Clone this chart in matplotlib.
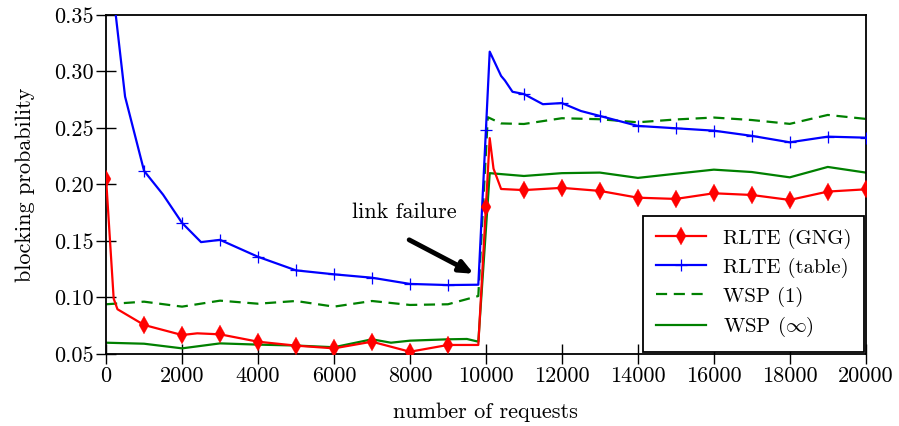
import numpy as np
import matplotlib
matplotlib.use('Agg')
import matplotlib.pyplot as plt
from matplotlib.ticker import FormatStrFormatter

plt.rcParams['font.family'] = 'serif'
plt.rcParams['font.serif'] = ['cmr10', 'DejaVu Serif']
plt.rcParams['mathtext.fontset'] = 'cm'
plt.rcParams['axes.formatter.use_mathtext'] = True

# RLTE (GNG)
x_gng = [0, 200, 300, 1000, 2000, 2400, 3000, 4000, 5000, 6000, 7000, 8000, 9000,
         9800, 10000, 10100, 10200, 10400, 11000, 12000, 13000, 14000, 15000,
         16000, 17000, 18000, 19000, 20000]
y_gng = [0.205, 0.099, 0.0896, 0.0757, 0.0668, 0.0683, 0.0674, 0.0609, 0.0574, 0.055,
         0.0609, 0.052, 0.058, 0.058, 0.180, 0.241, 0.214, 0.196, 0.195, 0.197, 0.1943,
         0.1883, 0.1872, 0.1922, 0.1907, 0.1863, 0.1937, 0.1957]

# RLTE (table)
x_tab = [0, 500, 1000, 1500, 2000, 2500, 3000, 4000, 5000, 6000, 7000, 8000, 9000,
         9800, 10000, 10100, 10400, 10500, 10700, 11000, 11500, 12000, 12500, 13000,
         14000, 15000, 16000, 17000, 18000, 19000, 20000]
y_tab = [0.425, 0.2777, 0.212, 0.191, 0.166, 0.149, 0.151, 0.136, 0.124, 0.1205,
         0.1175, 0.112, 0.111, 0.1113, 0.248, 0.3175, 0.296, 0.292, 0.282, 0.280,
         0.271, 0.272, 0.265, 0.2606, 0.2518, 0.2497, 0.2476, 0.243, 0.2373, 0.2423,
         0.2414]

# WSP (1)
x_w1 = [0, 1000, 2000, 3000, 4000, 5000, 6000, 7000, 8000, 9000, 9800, 10050,
        10400, 11000, 12000, 13000, 14000, 15000, 16000, 17000, 18000, 19000, 20000]
y_w1 = [0.094, 0.0963, 0.0919, 0.0972, 0.0945, 0.0969, 0.0919, 0.0969, 0.0934, 0.094,
        0.1013, 0.2595, 0.254, 0.2535, 0.2586, 0.2577, 0.255, 0.2575, 0.2592, 0.257,
        0.2536, 0.2615, 0.258]

# WSP (inf)
x_winf = [0, 1000, 2000, 3000, 4000, 5000, 6000, 7000, 7500, 8000, 9000, 9500, 9800,
          10100, 11000, 12000, 13000, 14000, 15000, 16000, 17000, 18000, 19000, 20000]
y_winf = [0.060, 0.0591, 0.055, 0.0594, 0.0583, 0.0575, 0.056, 0.063, 0.060, 0.0618,
          0.063, 0.0633, 0.0609, 0.210, 0.2075, 0.210, 0.2105, 0.2058, 0.2095, 0.2131,
          0.211, 0.2063, 0.2155, 0.2105]

green = '#008000'

fig = plt.figure(figsize=(8.99, 4.26), dpi=100)
ax = fig.add_axes([0.118, 0.169, 0.845, 0.796])

ax.plot(x_gng, y_gng, color='red', lw=1.6, marker='d', ms=9, mew=0.2,
        markevery=[x % 1000 == 0 for x in x_gng], label='RLTE (GNG)', zorder=4)
ax.plot(x_tab, y_tab, color='blue', lw=1.6, marker='+', ms=9, mew=0.9,
        markevery=[x % 1000 == 0 for x in x_tab], label='RLTE (table)', zorder=3)
ax.plot(x_w1, y_w1, color=green, lw=1.6, ls=(0, (5, 3)), label='WSP (1)', zorder=2)
ax.plot(x_winf, y_winf, color=green, lw=1.6, label=r'WSP ($\infty$)', zorder=2)

# annotation
ax.text(7850, 0.175, 'link failure', fontsize=16, ha='center', va='center')
ax.annotate('', xy=(9680, 0.121), xytext=(7980, 0.151),
            arrowprops=dict(arrowstyle='-|>,head_length=0.8,head_width=0.35',
                            color='black', lw=3.5, shrinkA=0, shrinkB=0))

ax.set_xlim(0, 20000)
ax.set_ylim(0.05, 0.35)
ax.set_xticks(np.arange(0, 20001, 2000))
ax.set_yticks(np.arange(0.05, 0.351, 0.05))
ax.yaxis.set_major_formatter(FormatStrFormatter('%.2f'))
ax.xaxis.set_major_formatter(FormatStrFormatter('%d'))
ax.tick_params(direction='inout', length=14, width=1, labelsize=16, pad=2)
for s in ax.spines.values():
    s.set_linewidth(1.3)

ax.set_xlabel('number of requests', fontsize=16, labelpad=12)
ax.set_ylabel('blocking probability', fontsize=16, labelpad=14)

leg = ax.legend(loc='lower right', fontsize=15, frameon=True, fancybox=False,
                edgecolor='black', framealpha=1, handlelength=2.4,
                borderaxespad=0.1, labelspacing=0.42, borderpad=0.6)
leg.get_frame().set_linewidth(1.3)

fig.savefig('out.png', dpi=100)
